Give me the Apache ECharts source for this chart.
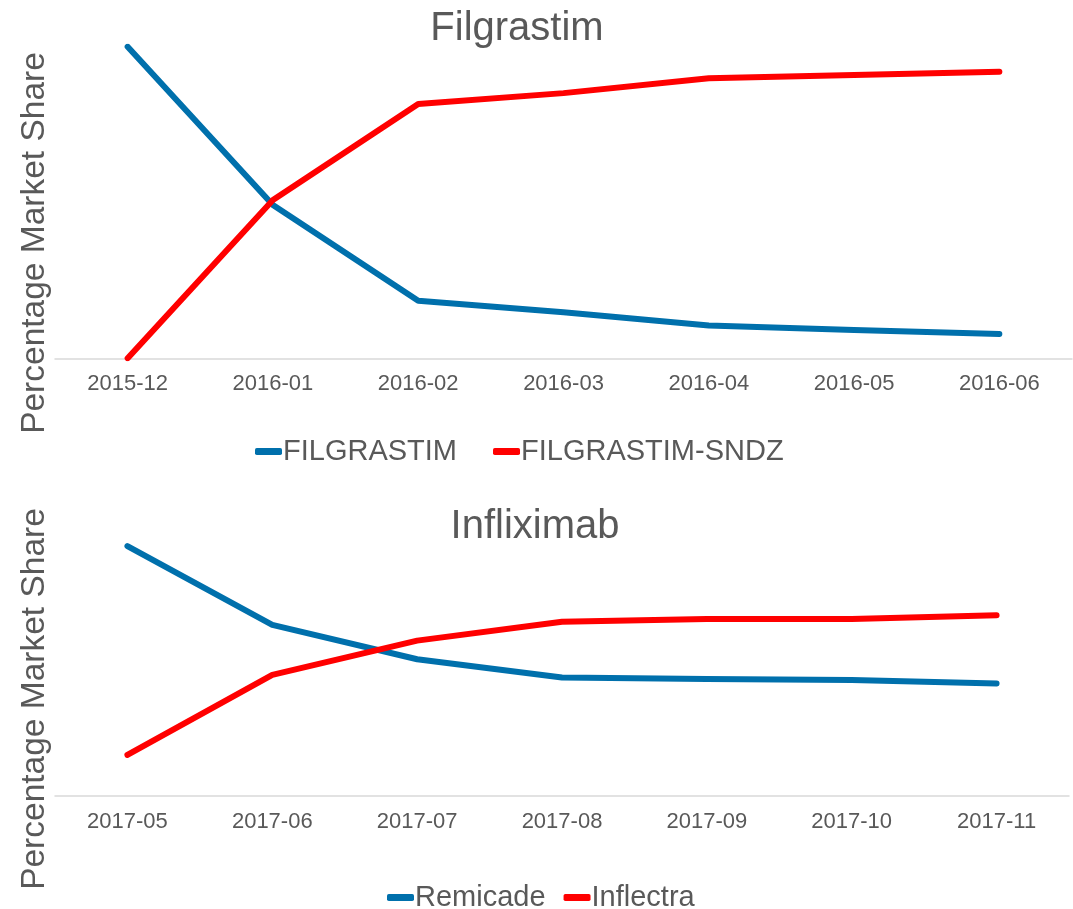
<!DOCTYPE html>
<html>
<head>
<meta charset="utf-8">
<script src="https://cdn.jsdelivr.net/npm/echarts@6/dist/echarts.min.js"></script>
<style>
  html, body { margin: 0; padding: 0; background: #fff; }
  #main { width: 1073px; height: 909px; }
</style>
</head>
<body>
<div id="main"></div>
<script>
// top panel: Filgrastim
var filMonths = ['2015-12', '2016-01', '2016-02', '2016-03', '2016-04', '2016-05', '2016-06'];
var filgrastim = [100, 49.2, 18.5, 14.8, 10.5, 9.1, 7.8];
var filgrastimSndz = [0, 50.8, 81.6, 85.1, 89.9, 90.9, 92.0];

// bottom panel: Infliximab
var infMonths = ['2017-05', '2017-06', '2017-07', '2017-08', '2017-09', '2017-10', '2017-11'];
var remicade = [85.9, 58.8, 47.0, 40.7, 40.2, 39.9, 38.7];
var inflectra = [14.1, 41.6, 53.4, 59.9, 60.8, 60.8, 62.1];

var BLUE = '#0070ac';
var RED = '#ff0000';
var GREY = '#595959';
var FONT = '"Liberation Sans", Arial, sans-serif';

var myChart = echarts.init(document.getElementById('main'));

function lineSeries(name, data, color, idx) {
    return {
        name: name,
        type: 'line',
        xAxisIndex: idx,
        yAxisIndex: idx,
        data: data,
        symbol: 'none',
        smooth: false,
        lineStyle: { color: color, width: 6, cap: 'round', join: 'round' },
        itemStyle: { color: color }
    };
}

function xAxisFor(months, idx) {
    return {
        type: 'category',
        gridIndex: idx,
        data: months,
        boundaryGap: true,
        axisLine: { lineStyle: { color: '#d9d9d9', width: 1.5 } },
        axisTick: { show: false },
        axisLabel: { color: GREY, fontSize: 22, fontFamily: FONT, margin: 15 }
    };
}

function yAxisFor(idx) {
    return {
        type: 'value',
        gridIndex: idx,
        min: 0,
        max: 100,
        axisLine: { show: false },
        axisTick: { show: false },
        axisLabel: { show: false },
        splitLine: { show: false }
    };
}

var option = {
    backgroundColor: '#fff',
    animation: false,
    title: [
        { text: 'Filgrastim', left: 512, top: 4, textAlign: 'center',
          textStyle: { color: GREY, fontSize: 40, fontWeight: 'normal', fontFamily: FONT } },
        { text: 'Infliximab', left: 530, top: 502, textAlign: 'center',
          textStyle: { color: GREY, fontSize: 40, fontWeight: 'normal', fontFamily: FONT } }
    ],
    legend: [
        { data: ['FILGRASTIM', 'FILGRASTIM-SNDZ'], top: 432, left: 250,
          icon: 'roundRect', itemWidth: 27, itemHeight: 7, itemGap: 36,
          textStyle: { color: GREY, fontSize: 29, fontFamily: FONT, padding: [0, 0, 0, -4] } },
        { data: ['Remicade', 'Inflectra'], top: 878, left: 382,
          icon: 'roundRect', itemWidth: 27, itemHeight: 7, itemGap: 18,
          textStyle: { color: GREY, fontSize: 29, fontFamily: FONT, padding: [0, 0, 0, -4] } }
    ],
    grid: [
        { left: 55, right: 1, top: 46.7, height: 311.6 },
        { left: 55, right: 4, top: 505, height: 291 }
    ],
    xAxis: [xAxisFor(filMonths, 0), xAxisFor(infMonths, 1)],
    yAxis: [yAxisFor(0), yAxisFor(1)],
    graphic: [
        { type: 'text', x: 35, y: 243, rotation: Math.PI / 2,
          style: { text: 'Percentage Market Share', fill: GREY, fontSize: 33.5, fontFamily: FONT,
                   align: 'center', verticalAlign: 'middle' } },
        { type: 'text', x: 35, y: 699, rotation: Math.PI / 2,
          style: { text: 'Percentage Market Share', fill: GREY, fontSize: 33.5, fontFamily: FONT,
                   align: 'center', verticalAlign: 'middle' } }
    ],
    series: [
        lineSeries('FILGRASTIM', filgrastim, BLUE, 0),
        lineSeries('FILGRASTIM-SNDZ', filgrastimSndz, RED, 0),
        lineSeries('Remicade', remicade, BLUE, 1),
        lineSeries('Inflectra', inflectra, RED, 1)
    ]
};

myChart.setOption(option);
</script>
</body>
</html>
